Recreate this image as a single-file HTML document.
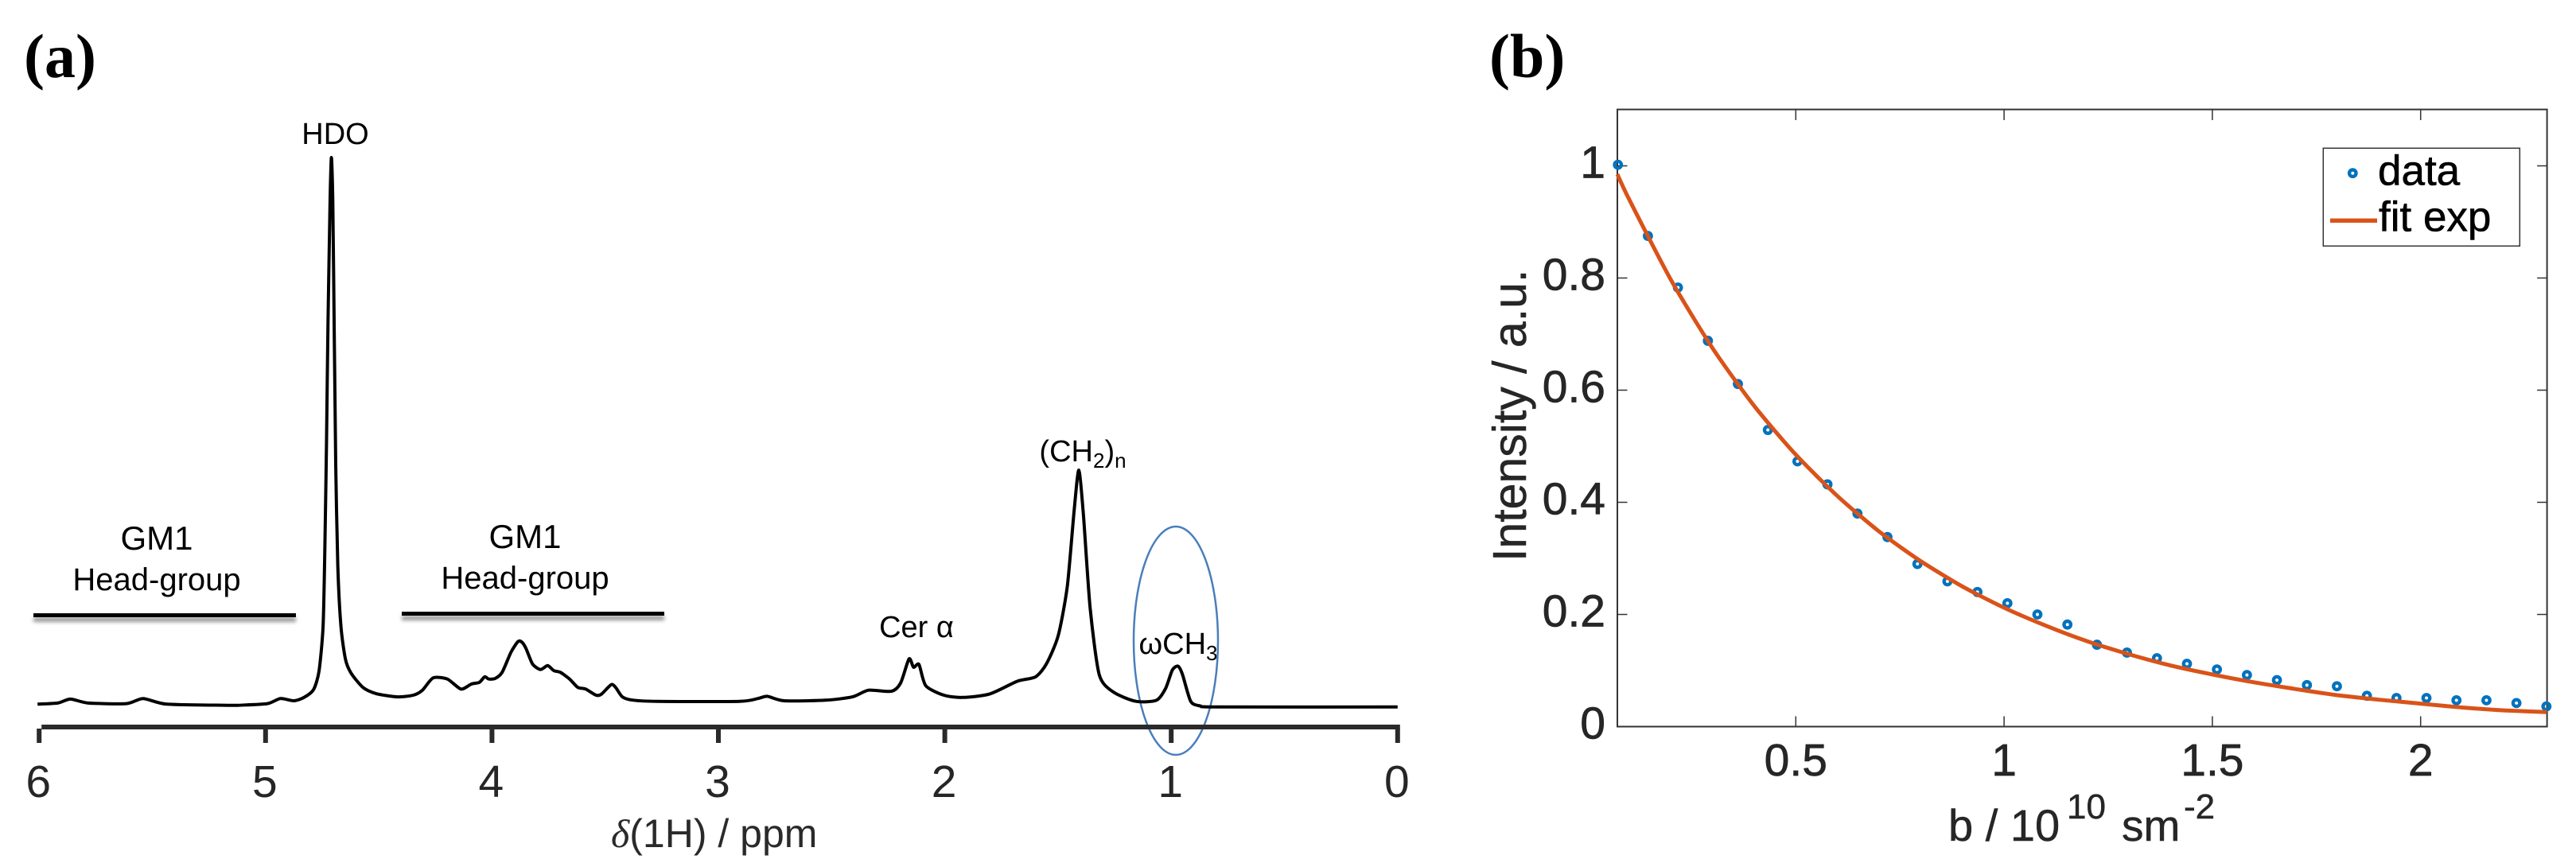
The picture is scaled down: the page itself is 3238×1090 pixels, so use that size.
<!DOCTYPE html>
<html lang="en">
<head>
<meta charset="utf-8">
<title>NMR spectrum and diffusion decay</title>
<style>
html,body{margin:0;padding:0;background:#fff;}
body{width:3238px;height:1090px;overflow:hidden;}
svg{display:block;}
text{font-family:"Liberation Sans",sans-serif;}
.ann{font-size:38px;fill:#000;}
.ann-wide{font-size:40px;fill:#000;}
.ann-gm{font-size:42px;fill:#000;}
.panel{font-family:"Liberation Serif",serif;font-weight:bold;font-size:78px;fill:#000;}
.tick{font-size:57px;fill:#262626;}
.tick-b{font-size:57px;fill:#262626;stroke:#262626;stroke-width:0.7px;}
</style>
</head>
<body>
<svg id="figure" xmlns="http://www.w3.org/2000/svg" width="3238" height="1090" viewBox="0 0 3238 1090">
  <defs>
    <filter id="soft" x="-5%" y="-300%" width="110%" height="700%"><feGaussianBlur stdDeviation="2.5"/></filter>
  </defs>
  <rect width="3238" height="1090" fill="#fff"/>

  <text class="panel" x="30" y="97">(a)</text>
  <text class="panel" x="1872" y="97">(b)</text>

  <g id="panel-a">
    <rect x="42" y="776" width="330" height="6" fill="#999" filter="url(#soft)"/>
    <rect x="505" y="774" width="330" height="6" fill="#999" filter="url(#soft)"/>
    <rect x="42" y="771" width="330" height="5" fill="#000"/>
    <rect x="505" y="769" width="330" height="5" fill="#000"/>
    <text class="ann" x="421.5" y="181" text-anchor="middle">HDO</text>
    <text class="ann-gm" x="197" y="691" text-anchor="middle">GM1</text>
    <text class="ann-wide" x="197" y="742" text-anchor="middle">Head-group</text>
    <text class="ann-gm" x="660" y="689" text-anchor="middle">GM1</text>
    <text class="ann-wide" x="660" y="740" text-anchor="middle">Head-group</text>
    <text class="ann" x="1152" y="801" text-anchor="middle">Cer α</text>
    <text class="ann" x="1361" y="580" text-anchor="middle">(CH<tspan font-size="26" dy="8">2</tspan><tspan dy="-8">)</tspan><tspan font-size="26" dy="8">n</tspan></text>
    <text class="ann" x="1481" y="822" text-anchor="middle">ωCH<tspan font-size="26" dy="8">3</tspan></text>
    <ellipse cx="1478" cy="805.5" rx="53" ry="143.5" fill="none" stroke="#4a7ebb" stroke-width="2.5"/>
    <text x="768" y="1065" font-size="50" fill="#2a2a2a"><tspan font-style="italic" font-family="Liberation Serif, serif">δ</tspan>(1H) / ppm</text>
  </g>

  <g id="panel-b">
    <rect x="2033" y="137.6" width="1168.6" height="775.9" fill="none" stroke="#333" stroke-width="2"/>
    <text transform="translate(1918 706) rotate(-90)" font-size="59" fill="#262626" stroke="#262626" stroke-width="0.5">Intensity / a.u.</text>
    <g fill="#262626" stroke="#262626" stroke-width="0.5">
      <text x="2449" y="1057" font-size="56">b / 10</text>
      <text x="2598" y="1029" font-size="44">10</text>
      <text x="2667" y="1057" font-size="55">sm</text>
      <text x="2745" y="1029" font-size="44">-2</text>
    </g>
  </g>
</svg>
<script>
// ---------- Panel (a) data ----------
const spectrumTicks = [6, 5, 4, 3, 2, 1, 0];
const spectrumPpm = [6.007,5.918,5.862,5.783,5.615,5.541,5.436,5.167,5.121,4.992,4.935,4.875,4.830,4.788,4.764,4.746,4.738,4.731,4.724,4.715,4.709,4.703,4.697,4.690,4.681,4.667,4.647,4.623,4.570,4.513,4.418,4.348,4.307,4.260,4.197,4.137,4.091,4.056,4.032,4.014,3.986,3.955,3.916,3.885,3.868,3.850,3.821,3.786,3.754,3.727,3.698,3.657,3.621,3.586,3.540,3.516,3.473,3.452,3.424,3.375,3.270,2.907,2.826,2.784,2.710,2.527,2.408,2.337,2.236,2.195,2.158,2.138,2.114,2.084,2.004,1.923,1.803,1.680,1.599,1.550,1.499,1.459,1.428,1.408,1.388,1.358,1.318,1.257,1.156,1.065,1.025,0.995,0.970,0.950,0.914,0.873,0.793,0];
const spectrumIntensity = [0.021,0.023,0.030,0.023,0.022,0.031,0.021,0.019,0.019,0.022,0.031,0.027,0.033,0.047,0.080,0.160,0.305,0.487,0.705,0.923,1.000,0.923,0.705,0.450,0.269,0.160,0.101,0.077,0.051,0.040,0.034,0.037,0.046,0.068,0.066,0.048,0.057,0.060,0.070,0.066,0.067,0.078,0.114,0.133,0.132,0.121,0.093,0.083,0.090,0.081,0.078,0.066,0.051,0.048,0.037,0.039,0.056,0.050,0.034,0.028,0.026,0.026,0.031,0.035,0.027,0.028,0.034,0.046,0.044,0.059,0.102,0.087,0.092,0.054,0.037,0.033,0.039,0.062,0.070,0.094,0.144,0.232,0.371,0.440,0.361,0.193,0.074,0.043,0.026,0.028,0.049,0.082,0.089,0.074,0.026,0.018,0.016,0.016];

// ---------- Panel (b) data ----------
const decayXTicks = [0.5, 1, 1.5, 2];
const decayXTickLabels = ['0.5', '1', '1.5', '2'];
const decayYTicks = [0, 0.2, 0.4, 0.6, 0.8, 1];
const decayYTickLabels = ['0', '0.2', '0.4', '0.6', '0.8', '1'];
const dataB = [0.073,0.145,0.217,0.289,0.361,0.433,0.504,0.576,0.648,0.720,0.792,0.864,0.936,1.008,1.080,1.152,1.223,1.295,1.367,1.439,1.511,1.583,1.655,1.727,1.799,1.871,1.942,2.014,2.086,2.158,2.230,2.302];
const dataIntensity = [1.002,0.875,0.783,0.688,0.611,0.529,0.473,0.432,0.380,0.338,0.290,0.259,0.240,0.220,0.200,0.182,0.146,0.132,0.122,0.112,0.102,0.092,0.083,0.074,0.072,0.055,0.051,0.051,0.047,0.047,0.042,0.036];
const fitB = [0.0716,0.1,0.2,0.3,0.4,0.5,0.6,0.7,0.8,0.9,1.0,1.1,1.2,1.3,1.4,1.5,1.6,1.7,1.8,1.9,2.0,2.1,2.2,2.303];
const fitIntensity = [0.985,0.940,0.797,0.675,0.572,0.485,0.411,0.348,0.295,0.250,0.212,0.180,0.152,0.129,0.109,0.093,0.079,0.067,0.056,0.048,0.041,0.034,0.029,0.026];

const NS = 'http://www.w3.org/2000/svg';
function mk(tag, attrs, parent, txt) {
  const el = document.createElementNS(NS, tag);
  for (const k in attrs) el.setAttribute(k, attrs[k]);
  if (txt !== undefined) el.textContent = txt;
  parent.appendChild(el);
  return el;
}

// Axis functions
const specX = ppm => 1756.8 - 284.6 * ppm;
const specY = v => 900 - 702 * v;
const decayX = b => 2257.3 + (b - 0.5) * 523.6;
const decayY = v => 913.5 - 705 * v;

function smoothPath(px) {
  let d = 'M' + px[0][0].toFixed(1) + ' ' + px[0][1].toFixed(1);
  for (let i = 0; i < px.length - 1; i++) {
    const p0 = px[Math.max(0, i - 1)], p1 = px[i], p2 = px[i + 1], p3 = px[Math.min(px.length - 1, i + 2)];
    const t = 0.12;
    const c1x = p1[0] + (p2[0] - p0[0]) * t, c1y = p1[1] + (p2[1] - p0[1]) * t;
    const c2x = p2[0] - (p3[0] - p1[0]) * t, c2y = p2[1] - (p3[1] - p1[1]) * t;
    d += 'C' + c1x.toFixed(1) + ' ' + c1y.toFixed(1) + ' ' + c2x.toFixed(1) + ' ' + c2y.toFixed(1) + ' ' + p2[0].toFixed(1) + ' ' + p2[1].toFixed(1);
  }
  return d;
}

// ---------- Draw panel (a) ----------
const panelA = document.getElementById('panel-a');
const specLine = mk('path', {d: smoothPath(spectrumPpm.map((p, i) => [specX(p), specY(spectrumIntensity[i])])), fill: 'none', stroke: '#000', 'stroke-width': 4, 'stroke-linejoin': 'round'}, panelA);



const specAxis = mk('line', {x1: specX(6) + 3, x2: specX(0) + 3, y1: 914, y2: 914, stroke: '#2a2a2a', 'stroke-width': 6}, panelA);



spectrumTicks.forEach(t => {
  const mark = mk('line', {x1: specX(t), x2: specX(t), y1: 916, y2: 934, stroke: '#2a2a2a', 'stroke-width': 6}, panelA);
  
  
  const label = mk('text', {x: specX(t) - 1, y: 1002, 'text-anchor': 'middle', 'class': 'tick'}, panelA, String(t));
  
  
});

// ---------- Draw panel (b) ----------
const panelB = document.getElementById('panel-b');
const plotL = decayX(0.0716), plotR = decayX(2.3035), plotT = decayY(1.1), plotB = decayY(0);

decayXTicks.forEach((t, i) => {
  const up = mk('line', {x1: decayX(t), x2: decayX(t), y1: plotB, y2: plotB - 13, stroke: '#333', 'stroke-width': 1.5}, panelB);
  
  
  const dn = mk('line', {x1: decayX(t), x2: decayX(t), y1: plotT, y2: plotT + 13, stroke: '#333', 'stroke-width': 1.5}, panelB);
  
  
  const label = mk('text', {x: decayX(t), y: 975, 'text-anchor': 'middle', 'class': 'tick-b'}, panelB, decayXTickLabels[i]);
  
  
});
decayYTicks.forEach((t, i) => {
  const l = mk('line', {x1: plotL, x2: plotL + 12.5, y1: decayY(t), y2: decayY(t), stroke: '#333', 'stroke-width': 1.5}, panelB);
  
  
  const r = mk('line', {x1: plotR, x2: plotR - 12.5, y1: decayY(t), y2: decayY(t), stroke: '#333', 'stroke-width': 1.5}, panelB);
  
  
  const label = mk('text', {x: 2018, y: decayY(t) + 15, 'text-anchor': 'end', 'class': 'tick-b'}, panelB, decayYTickLabels[i]);
  
  
});

dataB.forEach((b, i) => {
  const pt = mk('circle', {cx: decayX(b), cy: decayY(dataIntensity[i]), r: 4.2, fill: 'none', stroke: '#0072bd', 'stroke-width': 4.4}, panelB);
  
  
});

const fitLine = mk('path', {d: smoothPath(fitB.map((b, i) => [decayX(b), decayY(fitIntensity[i])])), fill: 'none', stroke: '#d95319', 'stroke-width': 5, 'stroke-linejoin': 'round'}, panelB);



// ---------- Legend ----------
const legend = mk('g', {}, panelB);


const legendBox = mk('rect', {x: 2920.3, y: 186.3, width: 247, height: 123, fill: '#fff', stroke: '#333', 'stroke-width': 1.5}, legend);


const legendMarker = mk('circle', {cx: 2957.3, cy: 217.7, r: 4.2, fill: 'none', stroke: '#0072bd', 'stroke-width': 4.4}, legend);


const legendData = mk('text', {x: 2989, y: 232.5, 'font-size': 53, fill: '#000', stroke: '#000', 'stroke-width': 0.6}, legend, 'data');


const legendSwatch = mk('line', {x1: 2929, x2: 2988, y1: 277.3, y2: 277.3, stroke: '#d95319', 'stroke-width': 5.3}, legend);


const legendFit = mk('text', {x: 2990, y: 290.5, 'font-size': 53, fill: '#000', stroke: '#000', 'stroke-width': 0.6}, legend, 'fit exp');


</script>
</body>
</html>
